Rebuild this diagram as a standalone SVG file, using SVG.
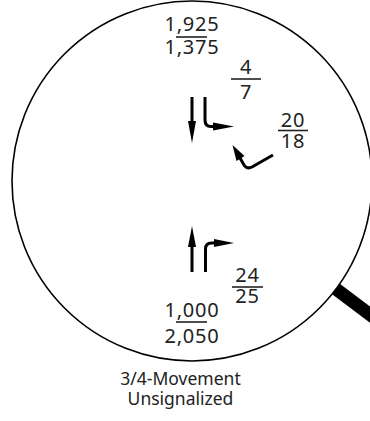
<svg xmlns="http://www.w3.org/2000/svg" width="370" height="421" viewBox="0 0 370 421">
<style>
.num{font-family:"Noto Sans","Open Sans",sans-serif;font-size:20px;fill:#222;text-anchor:middle;letter-spacing:0.8px}
.lbl{font-family:"Noto Sans","Open Sans",sans-serif;font-size:17.5px;fill:#222;text-anchor:middle}
.bar{stroke:#222;stroke-width:1.6}
.arr{fill:none;stroke:#000;stroke-width:3}
.head{fill:#000}
</style>
<g id="lens">
<line x1="328" y1="283" x2="400" y2="337" stroke="#000" stroke-width="13"/>
<circle cx="192" cy="181" r="180" fill="#fff" stroke="#000" stroke-width="1.6"/>
</g>
<g id="connectors">
<g id="sb-through">
<line class="arr" x1="192" y1="97" x2="192" y2="122"/>
<polygon class="head" points="188,121 196,121 192,143"/>
</g>
<g id="sb-turn">
<path class="arr" d="M205,97 L205,120 Q205,126.5 211,126.5 L215,126.5"/>
<polygon class="head" points="213,122.5 213,130.5 234,126.5"/>
</g>
<g id="wb-turn">
<path class="arr" d="M273,155 L252,167 Q247,169.5 244,165 L240,158"/>
<polygon class="head" points="236.5,161 244.5,156 232.5,145"/>
</g>
<g id="nb-through">
<line class="arr" x1="192" y1="272" x2="192" y2="246"/>
<polygon class="head" points="188,247 196,247 192,226"/>
</g>
<g id="nb-turn">
<path class="arr" d="M205.5,272 L205.5,249 Q205.5,243 211.5,243 L216,243"/>
<polygon class="head" points="214,239 214,247 234,243"/>
</g>
</g>
<g id="south-volumes">
<text class="num" x="192" y="31">1,925</text>
<line class="bar" x1="176" y1="37" x2="207" y2="37"/>
<text class="num" x="192" y="54">1,375</text>
</g>
<g id="sb-volumes">
<text class="num" x="246" y="74">4</text>
<line class="bar" x1="231" y1="79" x2="261" y2="79"/>
<text class="num" x="246" y="99">7</text>
</g>
<g id="wb-volumes">
<text class="num" x="293" y="127">20</text>
<line class="bar" x1="278" y1="130.5" x2="308" y2="130.5"/>
<text class="num" x="293" y="148">18</text>
</g>
<g id="nb-volumes">
<text class="num" x="247.5" y="282">24</text>
<line class="bar" x1="232" y1="287" x2="263" y2="287"/>
<text class="num" x="247.5" y="303">25</text>
</g>
<g id="north-volumes">
<text class="num" x="192" y="317">1,000</text>
<line class="bar" x1="176" y1="322" x2="207" y2="322"/>
<text class="num" x="192" y="343">2,050</text>
</g>
<g id="caption">
<text class="lbl" x="180.5" y="385">3/4-Movement</text>
<text class="lbl" x="180.5" y="405">Unsignalized</text>
</g>
</svg>
